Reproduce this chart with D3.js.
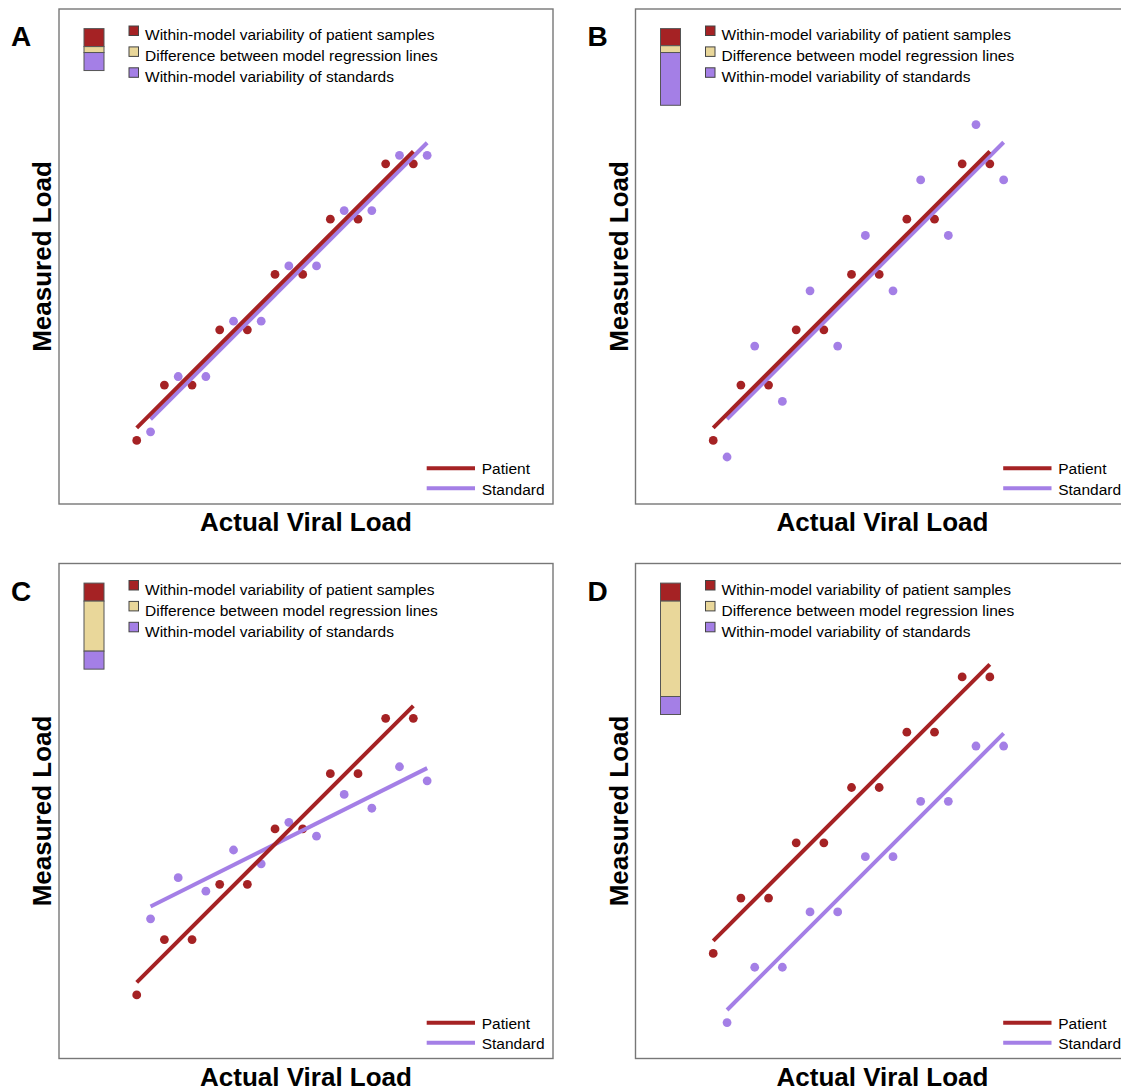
<!DOCTYPE html>
<meta charset="utf-8">
<style>
body { margin: 0; overflow: hidden; background: #fff; }
text { font-family: "Liberation Sans", Arial, sans-serif; fill: #000; }
.letter { font-size: 28px; font-weight: bold; }
.axis-title { font-size: 26px; font-weight: bold; }
.legend { font-size: 15.5px; }
</style>
<body>
<script src="https://cdn.jsdelivr.net/npm/d3@7"></script>
<script>

// actual viral load of each sample (arbitrary units)
var patientActual  = [0, 1, 2, 3, 4, 5, 6, 7, 8, 9, 10];
var standardActual = [0.5, 1.5, 2.5, 3.5, 4.5, 5.5, 6.5, 7.5, 8.5, 9.5, 10.5];

// measured load, one pair of series per panel
var patientA  = [0, 2, 2, 4, 4, 6, 6, 8, 8, 10, 10];
var standardA = [0.31, 2.31, 2.31, 4.31, 4.31, 6.31, 6.31, 8.31, 8.31, 10.31, 10.31];
var patientB  = [0, 2, 2, 4, 4, 6, 6, 8, 8, 10, 10];
var standardB = [-0.6, 3.41, 1.41, 5.41, 3.41, 7.41, 5.41, 9.42, 7.41, 11.42, 9.42];
var patientC  = [0, 2, 2, 4, 4, 6, 6, 8, 8, 10, 10];
var standardC = [2.75, 4.24, 3.75, 5.24, 4.74, 6.24, 5.74, 7.25, 6.75, 8.25, 7.74];
var patientD  = [1.5, 3.5, 3.5, 5.5, 5.5, 7.5, 7.5, 9.5, 9.5, 11.5, 11.5];
var standardD = [-1, 1, 1, 3, 3, 5, 5, 7, 7, 9, 9];

// variance components: patient samples, difference between lines, standards
var varianceA = [1, 0.33, 1];
var varianceB = [0.95, 0.38, 2.93];
var varianceC = [1, 2.78, 1];
var varianceD = [1, 5.3, 1];

var panelLabels = ["A", "B", "C", "D"];
var componentLabels = ["Within-model variability of patient samples",
                       "Difference between model regression lines",
                       "Within-model variability of standards"];
var seriesLabels = ["Patient", "Standard"];

var red = "#a52224", yellow = "#e9d79a", purple = "#a47fe6";
var componentColors = [red, yellow, purple];

var panels = [
  {label: panelLabels[0], patient: patientA, standard: standardA, variance: varianceA, x: 59,    y: 9},
  {label: panelLabels[1], patient: patientB, standard: standardB, variance: varianceB, x: 635.5, y: 9},
  {label: panelLabels[2], patient: patientC, standard: standardC, variance: varianceC, x: 59,    y: 563.5},
  {label: panelLabels[3], patient: patientD, standard: standardD, variance: varianceD, x: 635.5, y: 563.5}
];

var width = 1121, height = 1091,
    boxW = 494, boxH = 495;

var svg = d3.select("body").append("svg")
    .attr("width", width)
    .attr("height", height);

var x = d3.scaleLinear().domain([-2.81, 15.05]).range([0, boxW]);
var y = d3.scaleLinear().domain([-2.3, 15.6]).range([boxH, 0]);
var barScale = d3.scaleLinear().domain([0, 1]).range([0, 18]);

// least squares fit over the series' own x range
function fit(xs, ys) {
  var mx = d3.mean(xs), my = d3.mean(ys);
  var sxy = d3.sum(xs, function(d, i) { return (d - mx) * (ys[i] - my); });
  var sxx = d3.sum(xs, function(d) { return (d - mx) * (d - mx); });
  var b = sxy / sxx, a = my - b * mx;
  var ext = d3.extent(xs);
  return [[ext[0], a + b * ext[0]], [ext[1], a + b * ext[1]]];
}

var line = d3.line()
    .x(function(d) { return x(d[0]); })
    .y(function(d) { return y(d[1]); });

panels.forEach(function(p) {
  var g = svg.append("g")
      .attr("transform", "translate(" + p.x + "," + p.y + ")");

  g.append("rect")
      .attr("width", boxW)
      .attr("height", boxH)
      .attr("fill", "none")
      .attr("stroke", "#777")
      .attr("stroke-width", 1.4);

  g.append("text")
      .attr("class", "letter")
      .attr("x", -48)
      .attr("y", 37)
      .text(p.label);

  g.append("text")
      .attr("class", "axis-title")
      .attr("text-anchor", "middle")
      .attr("transform", "translate(-8," + (boxH / 2) + ") rotate(-90)")
      .text("Measured Load");

  g.append("text")
      .attr("class", "axis-title")
      .attr("text-anchor", "middle")
      .attr("x", boxW / 2)
      .attr("y", boxH + 27)
      .text("Actual Viral Load");

  // stacked variance bar
  var y0 = 19.6;
  p.variance.forEach(function(v, i) {
    g.append("rect")
        .attr("x", 25)
        .attr("y", y0)
        .attr("width", 20)
        .attr("height", barScale(v))
        .attr("fill", componentColors[i])
        .attr("stroke", "#555")
        .attr("stroke-width", 1);
    y0 += barScale(v);
  });

  componentLabels.forEach(function(t, i) {
    g.append("rect")
        .attr("x", 70)
        .attr("y", 17 + i * 20.9)
        .attr("width", 9.5)
        .attr("height", 9.5)
        .attr("fill", componentColors[i])
        .attr("stroke", "#444")
        .attr("stroke-width", 1);
    g.append("text")
        .attr("class", "legend")
        .attr("x", 86)
        .attr("y", 31.3 + i * 20.9)
        .text(t);
  });

  // points
  g.selectAll(".pt-std")
      .data(p.standard)
    .enter().append("circle")
      .attr("cx", function(d, i) { return x(standardActual[i]); })
      .attr("cy", function(d) { return y(d); })
      .attr("r", 4.4)
      .attr("fill", purple);

  g.selectAll(".pt-pat")
      .data(p.patient)
    .enter().append("circle")
      .attr("cx", function(d, i) { return x(patientActual[i]); })
      .attr("cy", function(d) { return y(d); })
      .attr("r", 4.4)
      .attr("fill", red);

  // regression lines
  g.append("path")
      .attr("d", line(fit(standardActual, p.standard)))
      .attr("stroke", purple)
      .attr("stroke-width", 4)
      .attr("fill", "none");

  g.append("path")
      .attr("d", line(fit(patientActual, p.patient)))
      .attr("stroke", red)
      .attr("stroke-width", 4)
      .attr("fill", "none");

  // line legend
  [red, purple].forEach(function(c, i) {
    g.append("line")
        .attr("x1", 367.7)
        .attr("x2", 416)
        .attr("y1", 459.3 + i * 20)
        .attr("y2", 459.3 + i * 20)
        .attr("stroke", c)
        .attr("stroke-width", 4);
    g.append("text")
        .attr("class", "legend")
        .attr("x", 422.7)
        .attr("y", 465.3 + i * 20.3)
        .text(seriesLabels[i]);
  });
});

</script>
